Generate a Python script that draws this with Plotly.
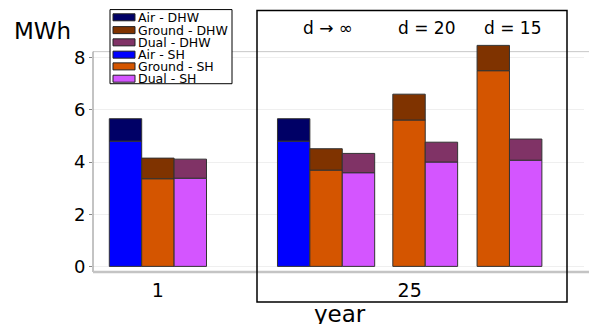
import plotly.graph_objects as go

# ---------------- data ----------------
clusters = ["1", "25 (d→∞)", "25 (d=20)", "25 (d=15)"]
air_sh = [4.80, 4.80, None, None]
air_dhw = [0.86, 0.86, None, None]
ground_sh = [3.36, 3.69, 5.61, 7.50]
ground_dhw = [0.79, 0.82, 0.99, 0.97]
dual_sh = [3.38, 3.59, 4.00, 4.07]
dual_dhw = [0.73, 0.74, 0.76, 0.81]
tick_labels = ["1", "25"]
d_labels = ["d → ∞", "d = 20", "d = 15"]
legend_names = ["Air - DHW", "Ground - DHW", "Dual - DHW", "Air - SH", "Ground - SH", "Dual - SH"]

# ---------------- layout / style ----------------
W, H = 589, 324
FRAME_TOP = 8.23          # visible frame top (data units)
Y0 = -0.215
YTOP = 8.6                # extended range so tall bars are not cut
unit_px = 220 / (FRAME_TOP - Y0)
ML, MR, MB = 93, 5, 52
MT = 52 - (YTOP - FRAME_TOP) * unit_px
PW, PH = W - ML - MR, H - MT - MB
cluster_start = [0.0, 5.19, 8.75, 11.35]
XR = [-1.003, 14.15]
YR = [Y0, YTOP]
FONT = "DejaVu Sans"

col_dhw = {"air": "#000066", "ground": "#7f3300", "dual": "#803366"}
col_sh = {"air": "#0000ff", "ground": "#d45500", "dual": "#d455ff"}
series = {
    "air": (air_sh, air_dhw),
    "ground": (ground_sh, ground_dhw),
    "dual": (dual_sh, dual_dhw),
}

# positions computed from cluster layout (order air, ground, dual within a cluster)
pos = {k: [] for k in series}
for ci in range(len(clusters)):
    idx = 0
    for k in ["air", "ground", "dual"]:
        if series[k][0][ci] is not None:
            pos[k].append(cluster_start[ci] + idx)
            idx += 1
        else:
            pos[k].append(None)

fig = go.Figure()
edge = dict(color="#333333", width=1)
for k in ["air", "ground", "dual"]:
    sh, dhw = series[k]
    xs = [p for p, v in zip(pos[k], sh) if v is not None]
    shv = [v for v in sh if v is not None]
    dhv = [v for v in dhw if v is not None]
    fig.add_trace(go.Bar(x=xs, y=shv, width=1, marker=dict(color=col_sh[k], line=edge),
                         showlegend=False, hoverinfo="y"))
    fig.add_trace(go.Bar(x=xs, y=dhv, base=shv, width=1, marker=dict(color=col_dhw[k], line=edge),
                         showlegend=False, hoverinfo="y"))


def px(xp):
    return (xp - ML) / PW


def py(yp):
    return (H - MB - yp) / PH


shapes = []
annotations = []
# top frame line
shapes.append(dict(type="line", xref="paper", yref="y", x0=0, x1=(W - ML) / PW, y0=FRAME_TOP, y1=FRAME_TOP,
                   line=dict(color="#c8c8c8", width=1), layer="below"))
# y axis line
shapes.append(dict(type="line", xref="paper", yref="y", x0=0, x1=0, y0=Y0, y1=FRAME_TOP,
                   line=dict(color="#888888", width=1)))
# bottom axis line (thick, light gray)
shapes.append(dict(type="line", xref="paper", yref="paper", x0=0, x1=(W - ML) / PW, y0=0, y1=0,
                   line=dict(color="#c4c4c4", width=2.5)))
# black rectangle around year 25 group
shapes.append(dict(type="rect", xref="paper", yref="paper", x0=px(257), x1=px(567), y0=py(302), y1=py(11),
                   line=dict(color="black", width=1.5), fillcolor="rgba(0,0,0,0)", layer="above"))

# d labels above clusters
d_x = [328, 426, 512]
for lab, xx in zip(d_labels, d_x):
    annotations.append(dict(text=lab, xref="paper", yref="paper", x=px(xx), y=py(28), showarrow=False,
                            xanchor="center", yanchor="middle", font=dict(family=FONT, size=17, color="black")))

# custom legend
leg_cols = [col_dhw["air"], col_dhw["ground"], col_dhw["dual"], col_sh["air"], col_sh["ground"], col_sh["dual"]]
shapes.append(dict(type="rect", xref="paper", yref="paper", x0=px(110), x1=px(232), y0=py(84), y1=py(10),
                   line=dict(color="black", width=1), fillcolor="white", layer="above"))
row_y = [17.7, 30.5, 42.7, 55.0, 66.7, 79.0]
for name, c, yy in zip(legend_names, leg_cols, row_y):
    shapes.append(dict(type="rect", xref="paper", yref="paper", x0=px(113), x1=px(135), y0=py(yy + 3.5),
                       y1=py(yy - 3.5), line=dict(color="#222222", width=1), fillcolor=c, layer="above"))
    annotations.append(dict(text=name, xref="paper", yref="paper", x=px(136), y=py(yy), showarrow=False,
                            xanchor="left", yanchor="middle", font=dict(family=FONT, size=12.5, color="black")))

# axis titles
annotations.append(dict(text="MWh", xref="paper", yref="paper", x=px(42), y=py(31), showarrow=False,
                        xanchor="center", yanchor="middle", font=dict(family=FONT, size=23, color="black")))
annotations.append(dict(text="year", xref="paper", yref="paper", x=px(340), y=py(314), showarrow=False,
                        xanchor="center", yanchor="middle", font=dict(family=FONT, size=23, color="black")))

tick_x = [cluster_start[0] + 1, (cluster_start[1] - 0.5 + cluster_start[3] + 1.5) / 2]

fig.update_layout(
    width=W, height=H,
    margin=dict(l=ML, r=MR, t=MT, b=MB),
    paper_bgcolor="white", plot_bgcolor="white",
    barmode="overlay",
    shapes=shapes, annotations=annotations,
    font=dict(family=FONT, color="black"),
    xaxis=dict(range=XR, tickvals=tick_x, ticktext=tick_labels, showgrid=False, zeroline=False,
               showline=False, ticks="", ticklabelstandoff=5,
               tickfont=dict(family=FONT, size=19, color="black"), fixedrange=True),
    yaxis=dict(range=YR, tickvals=[0, 2, 4, 6, 8], showgrid=True, gridcolor="#efefef", gridwidth=1,
               zeroline=False, showline=False, ticks="outside",
               ticklen=3, tickcolor="#888888", tickfont=dict(family=FONT, size=18, color="black"),
               fixedrange=True),
)

fig.write_html("out.html", config={"displayModeBar": False},
               post_script="document.body.style.margin='0px';document.body.style.overflow='hidden';")
